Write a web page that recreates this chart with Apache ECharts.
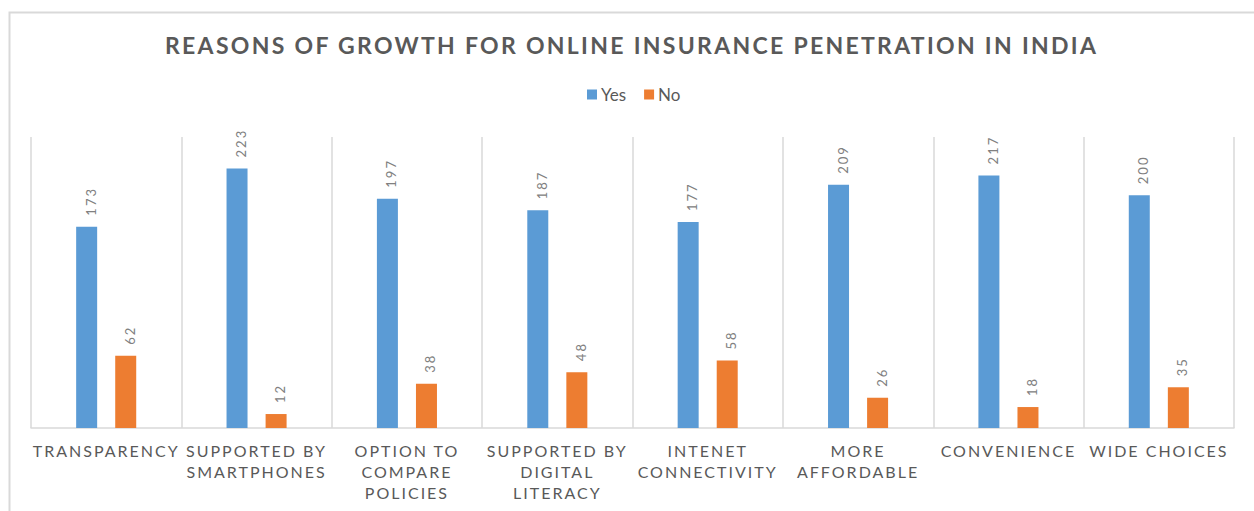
<!DOCTYPE html>
<html>
<head>
<meta charset="utf-8">
<script src="https://cdn.jsdelivr.net/npm/echarts@6/dist/echarts.min.js"></script>
<style>
  html, body { margin: 0; padding: 0; background: #fff; }
  #chart { width: 1254px; height: 511px; }
  #chart text[style*="23px"] { letter-spacing: 2.3px; }
  #chart text[style*="16px"] { letter-spacing: 2px; }
  #chart text[style*="13px"] { letter-spacing: 2px; }
</style>
</head>
<body>
<div id="chart"></div>
<script>
const titleText = 'REASONS OF GROWTH FOR ONLINE INSURANCE PENETRATION IN INDIA';
const categories = [
  'TRANSPARENCY',
  'SUPPORTED BY\nSMARTPHONES',
  'OPTION TO\nCOMPARE\nPOLICIES',
  'SUPPORTED BY\nDIGITAL\nLITERACY',
  'INTENET\nCONNECTIVITY',
  'MORE\nAFFORDABLE',
  'CONVENIENCE',
  'WIDE CHOICES'
];
const seriesNames = ['Yes', 'No'];
const yesValues = [173, 223, 197, 187, 177, 209, 217, 200];
const noValues = [62, 12, 38, 48, 58, 26, 18, 35];

const chart = echarts.init(document.getElementById('chart'), null, { renderer: 'svg' });

const labelStyle = {
  show: true,
  position: 'top',
  rotate: 90,
  align: 'left',
  verticalAlign: 'middle',
  distance: 11,
  offset: [0, 4],
  color: '#808080',
  fontSize: 13,
  fontFamily: 'Lato'
};

chart.setOption({
  animation: false,
  backgroundColor: '#ffffff',
  title: {
    text: titleText,
    left: 160,
    top: 28,
    textStyle: { color: '#595959', fontSize: 23, fontWeight: 'bold', fontFamily: 'Lato' }
  },
  legend: {
    data: seriesNames,
    left: 582,
    top: 81,
    icon: 'rect',
    itemWidth: 10,
    itemHeight: 10,
    itemGap: 18,
    textStyle: { color: '#595959', fontSize: 17, fontFamily: 'Lato', padding: [0, 0, 0, -1] }
  },
  graphic: [{
    type: 'rect',
    left: 7,
    top: 10,
    shape: { width: 1400, height: 700 },
    style: { fill: 'none', stroke: '#d9d9d9', lineWidth: 2 },
    silent: true
  }],
  grid: { left: 31, right: 20, top: 137, bottom: 83 },
  xAxis: {
    type: 'category',
    data: categories,
    axisLine: { lineStyle: { color: '#d9d9d9', width: 1.5 } },
    axisTick: { show: false },
    splitLine: { show: true, interval: 0, lineStyle: { color: '#d9d9d9', width: 1.5 } },
    axisLabel: {
      interval: 0,
      margin: 12,
      color: '#595959',
      fontSize: 16,
      lineHeight: 21,
      fontFamily: 'Lato'
    }
  },
  yAxis: {
    type: 'value',
    min: 0,
    max: 250,
    show: false,
    splitLine: { show: false }
  },
  series: [
    {
      name: seriesNames[0],
      type: 'bar',
      data: yesValues,
      barWidth: 21,
      barGap: '86%',
      itemStyle: { color: '#5B9BD5' },
      label: labelStyle
    },
    {
      name: seriesNames[1],
      type: 'bar',
      data: noValues,
      barWidth: 21,
      itemStyle: { color: '#ED7D31' },
      label: labelStyle
    }
  ]
});
</script>
</body>
</html>
